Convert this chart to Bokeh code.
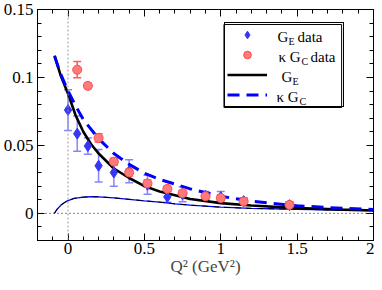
from bokeh.plotting import figure
from bokeh.models import (Range1d, FixedTicker, LinearAxis, Span, Whisker, TeeHead, BoxAnnotation,
                          ColumnDataSource, Legend, LegendItem, Label, CustomLabelingPolicy)
from bokeh.embed import file_html
from bokeh.resources import INLINE

# ---- data ----
ge_q2 = [0.0, 0.06, 0.13, 0.2, 0.3, 0.4, 0.52, 0.65, 0.75, 0.9, 1.0, 1.15, 1.45]
ge_val = [0.076, 0.0586, 0.0495, 0.035, 0.030, 0.031, 0.021, 0.0121, 0.014, 0.013, 0.012, 0.009, 0.006]
ge_err = [0.015, 0.013, 0.006, 0.012, 0.010, 0.0085, 0.007, 0.004, 0.0055, 0.003, 0.004, 0.0025, 0.0025]

gc_q2 = [0.06, 0.13, 0.2, 0.3, 0.4, 0.52, 0.65, 0.75, 0.9, 1.0, 1.15, 1.45]
gc_val = [0.1057, 0.0938, 0.0555, 0.038, 0.030, 0.022, 0.018, 0.0148, 0.0126, 0.0112, 0.0087, 0.0062]
gc_err = [0.006, 0.002, 0.003, 0.0025, 0.0025, 0.0025, 0.002, 0.002, 0.002, 0.002, 0.002, 0.002]

curve_q2 = [-0.088, -0.05, 0.0, 0.05, 0.1, 0.15, 0.2, 0.3, 0.4, 0.5, 0.6, 0.8, 1.0, 1.2, 1.5, 1.8, 2.0]
ge_curve = [0.116, 0.102, 0.088, 0.072, 0.060, 0.051, 0.044, 0.033, 0.026, 0.020, 0.016, 0.0105, 0.0075, 0.0058, 0.0038, 0.0027, 0.0021]
gc_curve = [0.1155, 0.103, 0.090, 0.079, 0.069, 0.062, 0.055, 0.044, 0.036, 0.0295, 0.025, 0.018, 0.0125, 0.009, 0.0055, 0.0037, 0.0029]

thin_q2 = [-0.09, -0.07, -0.045, -0.02, 0.0, 0.04, 0.1, 0.15, 0.2, 0.25, 0.3, 0.4, 0.5, 0.6, 0.7, 0.8, 1.0, 1.2, 1.5, 1.8, 2.0]
thin_val = [0.0, 0.0032, 0.0062, 0.0082, 0.0093, 0.011, 0.0119, 0.0122, 0.0121, 0.0118, 0.0114, 0.0103, 0.0092, 0.0082, 0.007, 0.006, 0.0045, 0.0036, 0.003, 0.0024, 0.002]

x_ticks = [0, 0.5, 1, 1.5, 2]
x_tick_labels = ["0", "0.5", "1", "1.5", "2"]
y_ticks = [0, 0.05, 0.1, 0.15]
y_tick_labels = ["0", "0.05", "0.1", "0.15"]
x_minor = [round(-0.2 + 0.1 * i, 2) for i in range(23)]
y_minor = [round(-0.02 + 0.01 * i, 3) for i in range(18)]

FONT = "Liberation Serif"
W, H = 374, 282
BL, BR, BT, BB = 36, 1, 9, 42
FH = H - BT - BB
FW = W - BL - BR
X0, X1, Y0, Y1 = -0.2, 2.0, -0.02, 0.15

p = figure(width=W, height=H, x_range=Range1d(X0, X1), y_range=Range1d(Y0, Y1),
           output_backend="svg", toolbar_location=None,
           min_border_left=BL, min_border_right=BR, min_border_top=BT, min_border_bottom=BB)
p.grid.visible = False
p.outline_line_color = "black"
p.outline_line_width = 1
p.background_fill_color = "white"

hide_all = CustomLabelingPolicy(code="""
const r = indices.clone();
for (let i = 0; i < r.size; i++) { r.unset(i); }
return r;
""")


def style_axis(ax, ticks, minor, labels, show_labels=True):
    ax.ticker = FixedTicker(ticks=ticks, minor_ticks=minor)
    ax.major_tick_in = 7
    ax.major_tick_out = 0
    ax.minor_tick_in = 4
    ax.minor_tick_out = 0
    ax.axis_line_color = "black"
    ax.major_tick_line_color = "black"
    ax.minor_tick_line_color = "black"
    if show_labels:
        ax.major_label_overrides = dict(zip(ticks, labels))
        ax.major_label_text_font = FONT
        ax.major_label_text_font_size = "17px"
        ax.major_label_text_color = "black"
    else:
        ax.major_label_policy = hide_all
        ax.major_label_text_font_size = "0px"
        ax.major_label_standoff = 0


style_axis(p.xaxis[0], x_ticks, x_minor, x_tick_labels)
style_axis(p.yaxis[0], y_ticks, y_minor, y_tick_labels)
p.xaxis.major_label_standoff = 2
p.yaxis.major_label_standoff = 4
p.xaxis.axis_label = "Q² (GeV²)"
p.xaxis.axis_label_text_font = FONT
p.xaxis.axis_label_text_font_size = "17px"
p.xaxis.axis_label_text_font_style = "normal"
p.xaxis.axis_label_standoff = 0

top_ax = LinearAxis()
style_axis(top_ax, x_ticks, x_minor, x_tick_labels, show_labels=False)
p.add_layout(top_ax, "above")
right_ax = LinearAxis()
style_axis(right_ax, y_ticks, y_minor, y_tick_labels, show_labels=False)
p.add_layout(right_ax, "right")

# reference lines
p.add_layout(Span(location=0, dimension="height", line_color="#999999", line_dash="2 2", line_width=1))
p.add_layout(Span(location=0, dimension="width", line_color="black", line_dash="1 3", line_width=1))

# curves
p.line(thin_q2, thin_val, line_color="blue", line_width=1.3)
p.line(thin_q2, thin_val, line_color="black", line_width=1, line_dash="6 5")
r_ge_line = p.line(curve_q2, ge_curve, line_color="black", line_width=2.6)
r_gc_line = p.line(curve_q2, gc_curve, line_color="blue", line_width=3, line_dash="12 7")

# data with error bars
ge_src = ColumnDataSource(dict(x=ge_q2, y=ge_val,
                               upper=[v + e for v, e in zip(ge_val, ge_err)],
                               lower=[v - e for v, e in zip(ge_val, ge_err)]))
gc_src = ColumnDataSource(dict(x=gc_q2, y=gc_val,
                               upper=[v + e for v, e in zip(gc_val, gc_err)],
                               lower=[v - e for v, e in zip(gc_val, gc_err)]))

ge_col = "#8585ff"
gc_col = "#ff5a5a"
p.add_layout(Whisker(source=ge_src, base="x", upper="upper", lower="lower",
                     line_color=ge_col, line_width=1.5,
                     upper_head=TeeHead(size=8, line_color=ge_col, line_width=1.5),
                     lower_head=TeeHead(size=8, line_color=ge_col, line_width=1.5)))
p.add_layout(Whisker(source=gc_src, base="x", upper="upper", lower="lower",
                     line_color=gc_col, line_width=1.5,
                     upper_head=TeeHead(size=8, line_color=gc_col, line_width=1.5),
                     lower_head=TeeHead(size=8, line_color=gc_col, line_width=1.5)))

r_ge = p.scatter("x", "y", source=ge_src, marker="diamond", size=11,
                 fill_color="#3636f5", line_color="#3636f5")
r_gc = p.scatter("x", "y", source=gc_src, marker="circle", size=9,
                 fill_color="#ff7b7b", line_color="#ff4a4a", line_width=1)

# legend (text drawn separately to allow subscripts)
box_left = 187          # from frame left
box_top = 15            # from frame top
box_w = 118
ITEM, GAP, PAD = 19, 1, 2
box_h = 2 * PAD + 4 * ITEM + 3 * GAP
legend = Legend(items=[LegendItem(label=" ", renderers=[r_ge]),
                       LegendItem(label=" ", renderers=[r_gc]),
                       LegendItem(label=" ", renderers=[r_ge_line]),
                       LegendItem(label=" ", renderers=[r_gc_line])],
                location=(box_left, FH - box_top - box_h),
                padding=PAD, spacing=GAP, glyph_height=ITEM, glyph_width=40,
                label_standoff=5, label_width=box_w - 2 * PAD - 45, label_height=ITEM, margin=0,
                border_line_color="black", border_line_alpha=1.0, border_line_width=1,
                background_fill_color="white", background_fill_alpha=0.01,
                label_text_font_size="10px")
p.add_layout(legend)

# legend frame, placed with the same pixel geometry converted to the fixed axis ranges
sx = (X1 - X0) / FW
sy = (Y1 - Y0) / FH
p.add_layout(BoxAnnotation(left=X0 + box_left * sx, right=X0 + (box_left + box_w) * sx,
                           top=Y1 - box_top * sy, bottom=Y1 - (box_top + box_h) * sy,
                           fill_alpha=0.0, line_color="black", line_width=1, line_alpha=1.0,
                           level="overlay"))

centers = [box_top + PAD + ITEM / 2 + i * (ITEM + GAP) for i in range(4)]
entries = [
    [("G", 53, 15, 0), ("E", 64, 10, -4), ("data", 73, 15, 0)],
    [("κ G", 54, 15, 0), ("C", 77, 10, -4), ("data", 86, 15, 0)],
    [("G", 57, 15, 0), ("E", 68, 10, -4)],
    [("κ G", 52, 15, 0), ("C", 75, 10, -4)],
]
for c, parts in zip(centers, entries):
    for txt, dx, fs, dy in parts:
        p.add_layout(Label(x=box_left + dx, y=FH - c - 1 + dy, x_units="screen", y_units="screen",
                           text=txt, text_font=FONT, text_font_size=f"{fs}px",
                           text_baseline="alphabetic", text_color="black", level="overlay"))

open("out.html", "w").write(file_html(p, INLINE))
